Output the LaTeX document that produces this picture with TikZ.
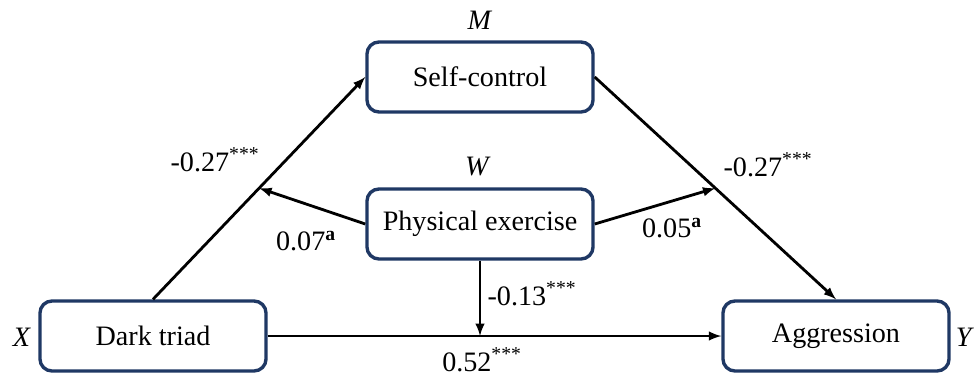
\documentclass[tikz,border=0pt]{standalone}
\usepackage{fontspec}
\setmainfont{Liberation Serif}
\usetikzlibrary{positioning}
\definecolor{boxblue}{RGB}{31,56,100}
\tikzset{
  varbox/.style={draw=boxblue, line width=2.4pt, rounded corners=0.3cm,
    fill=white, minimum width=5.65cm, minimum height=1.75cm},
  link/.style={-latex, line width=2pt},
}
\begin{document}
\begin{tikzpicture}[x=0.025cm,y=-0.025cm,font=\fontsize{20}{24}\selectfont]
    \useasboundingbox (0,0) rectangle (976,378);
    \node[varbox] (dt) at (153,336) {Dark triad};
    \node[varbox] (sc) at (480,77) {Self-control};
    \node[varbox] (pe) at (480,224) {Physical exercise};
    \node[varbox] (ag) at (836,336) {Aggression};
    \node (xlab) at (22,337) {\textit{X}};
    \node (mlab) at (480,20) {\textit{M}};
    \node (wlab) at (478,166) {\textit{W}};
    \node (ylab) at (965,337) {\textit{Y}};
    \draw[link] (dt.north) -- coordinate[pos=0.5] (a1) (sc.west);
    \draw[link] (sc.east) -- coordinate[pos=0.5] (b1) (ag.north);
    \draw[link] (dt.east) -- (ag.west);
    \coordinate (c1) at (pe.south |- dt.east);
    \draw[link] (pe.west) -- (a1);
    \draw[link] (pe.east) -- (b1);
    \draw[link] (pe.south) -- (c1);
    \node (acoef) at (215,160) {-0.27\textsuperscript{***}};
    \node (amod) at (306,241) {0.07\textsuperscript{\textbf{a}}};
    \node (bcoef) at (768,165) {-0.27\textsuperscript{***}};
    \node (bmod) at (672,228) {0.05\textsuperscript{\textbf{a}}};
    \node (cmod) at (532,294) {-0.13\textsuperscript{***}};
    \node (ccoef) at (482,360) {0.52\textsuperscript{***}};
  \end{tikzpicture}
\end{document}
